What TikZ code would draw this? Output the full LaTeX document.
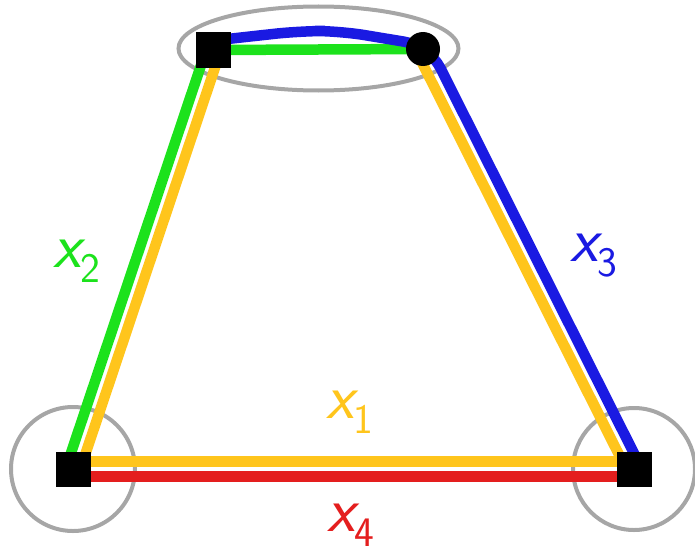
\documentclass[tikz,border=0pt]{standalone}
\usepackage{fontspec}
\usetikzlibrary{calc}
\definecolor{cgreen}{RGB}{28,226,28}
\definecolor{cyellow}{RGB}{255,197,28}
\definecolor{cred}{RGB}{228,30,30}
\definecolor{cblue}{RGB}{26,26,226}
\definecolor{cgray}{RGB}{166,166,166}
\pgfdeclarelayer{bg}
\pgfsetlayers{bg,main}
\newcommand{\xlab}[1]{{\fontsize{64}{64}\selectfont\sffamily\itshape x}\raisebox{-15pt}{\fontsize{42}{42}\selectfont\sffamily #1}}
\tikzset{
  sq/.style={fill=black, minimum size=35pt, inner sep=0pt, draw=none},
  dot/.style={circle, fill=black, minimum size=34pt, inner sep=0pt, draw=none},
  ring/.style={draw=cgray, line width=4pt},
  edge/.style={line width=10.5pt},
  lbl/.style={inner sep=0pt}
}
\begin{document}
\begin{tikzpicture}[x=1pt,y=-1pt]
\useasboundingbox (0,0) rectangle (695,551);
\node[sq] (tl) at (213.5,50) {};
\node[dot] (tr) at (423,49) {};
\node[sq] (bl) at (73,469) {};
\node[sq] (br) at (634,469) {};
\begin{pgfonlayer}{bg}
\draw[ring] (318.5,48.5) ellipse [x radius=140, y radius=42];
\draw[ring] (bl) circle [radius=62];
\draw[ring] (br) circle [radius=61];
% top
\draw[edge, cgreen] (tl.center) -- (tr.center);
\draw[edge, cblue, rounded corners=25pt] ($(tl.center)+(5,-10)$) -- (300,31) -- (340,31) -- ($(tr.center)!7pt!90:(br.center)$) -- ($(br.center)!7pt!-90:(tr.center)$);
% left
\draw[edge, cgreen] ($(tl.center)!7pt!-90:(bl.center)$) -- ($(bl.center)!7pt!90:(tl.center)$);
\draw[edge, cyellow] ($(tl.center)!7pt!90:(bl.center)$) -- ($(bl.center)!7pt!-90:(tl.center)$);
% bottom
\draw[edge, cyellow] ($(bl.center)!7.5pt!90:(br.center)$) -- ($(br.center)!7.5pt!-90:(bl.center)$);
\draw[edge, cred] ($(bl.center)!7.5pt!-90:(br.center)$) -- ($(br.center)!7.5pt!90:(bl.center)$);
% right
\draw[edge, cyellow] ($(tr.center)!7pt!-90:(br.center)$) -- ($(br.center)!7pt!90:(tr.center)$);
\end{pgfonlayer}
\node[lbl, text=cgreen] (l2) at (77,261) {\xlab{2}};
\node[lbl, text=cblue] (l3) at (594,256) {\xlab{3}};
\node[lbl, text=cyellow] (l1) at (350,412) {\xlab{1}};
\node[lbl, text=cred] (l4) at (351,525) {\xlab{4}};
\end{tikzpicture}
\end{document}
